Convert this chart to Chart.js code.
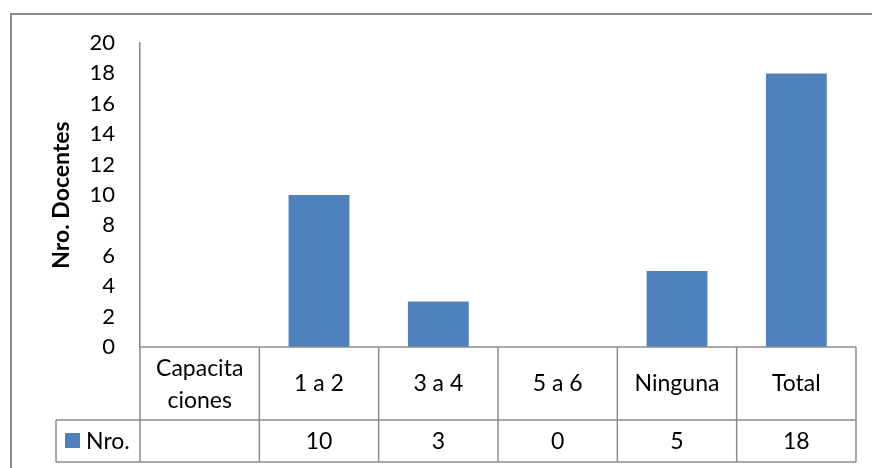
<!DOCTYPE html>
<html>
<head>
<meta charset="utf-8">
<script src="https://cdn.jsdelivr.net/npm/chart.js@4/dist/chart.umd.min.js"></script>
<style>
  html, body { margin: 0; padding: 0; background: #fff; }
  #grafico { display: block; }
</style>
</head>
<body>
<canvas id="grafico" width="872" height="468"></canvas>
<script>
// Datos del grafico
const categorias = [['Capacita', 'ciones'], '1 a 2', '3 a 4', '5 a 6', 'Ninguna', 'Total'];
const nroDocentes = [null, 10, 3, 0, 5, 18];
const nombreSerie = 'Nro.';
const tituloEjeY = 'Nro. Docentes';

const colorBarra = '#4F81BD';
const colorLinea = '#8c8c8c';
const fuente = 'Lato, "Open Sans", sans-serif';

// Marco exterior del grafico
const marco = {
  id: 'marco',
  beforeDraw(chart) {
    const ctx = chart.ctx;
    ctx.save();
    ctx.fillStyle = '#fff';
    ctx.fillRect(0, 0, chart.width, chart.height);
    ctx.strokeStyle = '#8a8a8a';
    ctx.lineWidth = 2;
    ctx.strokeRect(11, 14, chart.width + 20, chart.height + 20);
    ctx.restore();
  }
};

// Tabla de datos debajo del eje X
const tablaDatos = {
  id: 'tablaDatos',
  afterDraw(chart) {
    const ctx = chart.ctx;
    const area = chart.chartArea;
    const x = chart.scales.x;
    const ancho = (area.right - area.left) / categorias.length;
    const y0 = area.bottom;
    const y1 = y0 + 73;
    const y2 = y1 + 42;
    const xLeyenda = 56;

    ctx.save();
    ctx.strokeStyle = colorLinea;
    ctx.lineWidth = 1.5;
    ctx.beginPath();
    // lineas horizontales
    ctx.moveTo(area.left, y0); ctx.lineTo(area.right, y0);
    ctx.moveTo(xLeyenda, y1); ctx.lineTo(area.right, y1);
    ctx.moveTo(xLeyenda, y2); ctx.lineTo(area.right, y2);
    // lineas verticales
    ctx.moveTo(xLeyenda, y1); ctx.lineTo(xLeyenda, y2);
    for (let i = 0; i <= categorias.length; i++) {
      const cx = area.left + i * ancho;
      ctx.moveTo(cx, y0); ctx.lineTo(cx, y2);
    }
    ctx.stroke();

    ctx.fillStyle = '#000';
    ctx.font = '23px ' + fuente;
    ctx.textAlign = 'center';
    ctx.textBaseline = 'middle';
    categorias.forEach((cat, i) => {
      const cx = x.getPixelForValue(i);
      if (Array.isArray(cat)) {
        ctx.fillText(cat[0], cx, y0 + 22);
        ctx.fillText(cat[1], cx, y0 + 54);
      } else {
        ctx.fillText(cat, cx, (y0 + y1) / 2);
      }
      const v = nroDocentes[i];
      if (v !== null) ctx.fillText(String(v), cx, (y1 + y2) / 2 + 1);
    });

    // leyenda de la serie
    ctx.fillStyle = colorBarra;
    ctx.fillRect(65, 433, 15, 15);
    ctx.fillStyle = '#000';
    ctx.textAlign = 'left';
    ctx.fillText(nombreSerie, 86, (y1 + y2) / 2 + 1);
    ctx.restore();
  }
};

new Chart(document.getElementById('grafico'), {
  type: 'bar',
  data: {
    labels: categorias,
    datasets: [{
      label: nombreSerie,
      data: nroDocentes,
      backgroundColor: colorBarra,
      borderWidth: 0,
      barPercentage: 0.51,
      categoryPercentage: 1
    }]
  },
  options: {
    responsive: false,
    animation: false,
    layout: { padding: { left: 0, top: 43, right: 16, bottom: 121 } },
    plugins: {
      legend: { display: false },
      tooltip: { enabled: false }
    },
    scales: {
      x: { display: false },
      y: {
        min: 0,
        max: 20,
        grid: { display: false, drawTicks: false },
        border: { display: true, color: '#868686', width: 1.5 },
        ticks: {
          stepSize: 2,
          padding: 25,
          color: '#000',
          font: { family: fuente, size: 22 }
        },
        title: {
          display: true,
          text: tituloEjeY,
          color: '#000',
          font: { family: fuente, size: 23, weight: 'bold' },
          padding: { top: 48, bottom: 0 }
        },
        afterFit(scale) { scale.width = 140; }
      }
    }
  },
  plugins: [marco, tablaDatos]
});
</script>
</body>
</html>
